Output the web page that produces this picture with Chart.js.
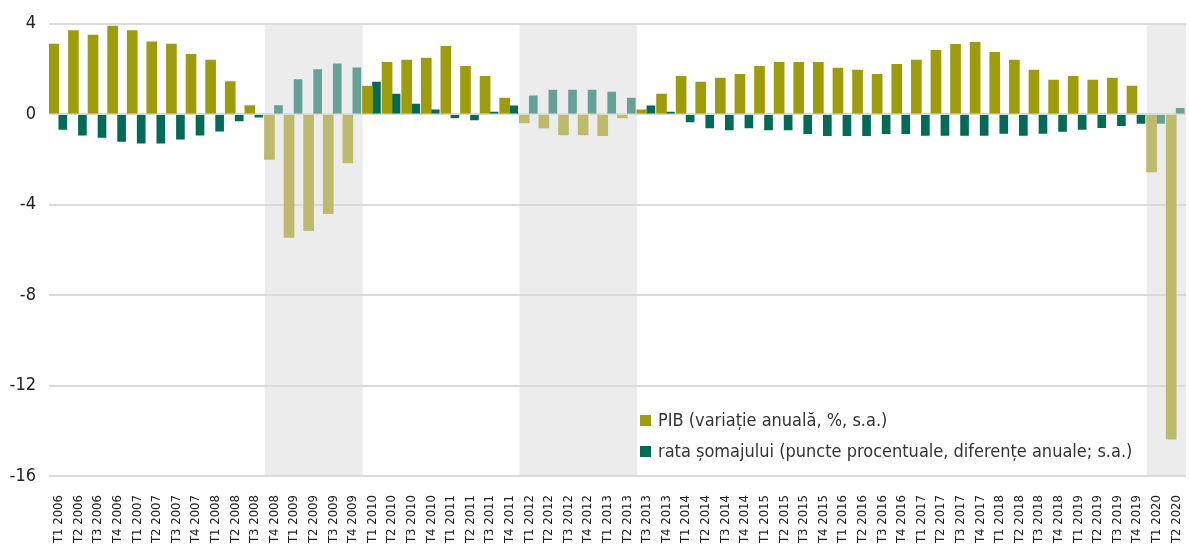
<!DOCTYPE html>
<html>
<head>
<meta charset="utf-8">
<script src="https://cdn.jsdelivr.net/npm/chart.js@4/dist/chart.umd.min.js"></script>
<style>
  html, body { margin: 0; padding: 0; background: #fff; }
  #wrap { width: 1189px; height: 545px; }
</style>
</head>
<body>
<div id="wrap"><canvas id="gdp-unemployment" width="1189" height="545"></canvas></div>
<script>
const quarters = [
  'T1 2006','T2 2006','T3 2006','T4 2006','T1 2007','T2 2007','T3 2007','T4 2007',
  'T1 2008','T2 2008','T3 2008','T4 2008','T1 2009','T2 2009','T3 2009','T4 2009',
  'T1 2010','T2 2010','T3 2010','T4 2010','T1 2011','T2 2011','T3 2011','T4 2011',
  'T1 2012','T2 2012','T3 2012','T4 2012','T1 2013','T2 2013','T3 2013','T4 2013',
  'T1 2014','T2 2014','T3 2014','T4 2014','T1 2015','T2 2015','T3 2015','T4 2015',
  'T1 2016','T2 2016','T3 2016','T4 2016','T1 2017','T2 2017','T3 2017','T4 2017',
  'T1 2018','T2 2018','T3 2018','T4 2018','T1 2019','T2 2019','T3 2019','T4 2019',
  'T1 2020','T2 2020'
];

// PIB, variatie anuala (%)
const gdpGrowth = [
  3.1, 3.7, 3.5, 3.9,   3.7, 3.2, 3.1, 2.65,
  2.4, 1.45, 0.38, -2.0,   -5.45, -5.15, -4.4, -2.15,
  1.25, 2.3, 2.4, 2.48,   3.0, 2.12, 1.68, 0.72,
  -0.38, -0.6, -0.91, -0.91,   -0.95, -0.16, 0.19, 0.89,
  1.68, 1.42, 1.6, 1.77,   2.12, 2.3, 2.3, 2.3,
  2.04, 1.95, 1.77, 2.21,   2.39, 2.83, 3.09, 3.18,
  2.74, 2.39, 1.95, 1.51,   1.68, 1.51, 1.6, 1.24,
  -2.55, -14.37
];

// rata somajului, diferente anuale (pp)
const unemploymentChange = [
  -0.67, -0.93, -1.03, -1.2,   -1.28, -1.28, -1.1, -0.93,
  -0.75, -0.3, -0.13, 0.38,   1.53, 1.97, 2.23, 2.05,
  1.42, 0.89, 0.45, 0.19,   -0.16, -0.25, 0.1, 0.37,
  0.81, 1.07, 1.07, 1.07,   0.98, 0.72, 0.37, 0.1,
  -0.34, -0.6, -0.69, -0.6,   -0.69, -0.69, -0.86, -0.95,
  -0.95, -0.95, -0.86, -0.86,   -0.94, -0.94, -0.94, -0.94,
  -0.85, -0.94, -0.85, -0.76,   -0.67, -0.59, -0.5, -0.41,
  -0.41, 0.26
];

// shaded periods (first and last quarter)
const recessions = [
  ['T4 2008', 'T4 2009'],
  ['T1 2012', 'T2 2013'],
  ['T1 2020', 'T2 2020']
];

const yTicks = [-16, -12, -8, -4, 0, 4];

const FONT = "'Liberation Sans Narrow', 'DejaVu Sans Condensed', 'Liberation Sans', sans-serif";
const OLIVE = '#9e9c0b', OLIVE_LIGHT = '#bdbb6b';
const TEAL = '#006b56', TEAL_LIGHT = '#66a197';

const shadedIdx = recessions.map(r => [quarters.indexOf(r[0]), quarters.indexOf(r[1])]);
const inRecession = i => shadedIdx.some(([a, b]) => i >= a && i <= b);

const shading = {
  id: 'shading',
  beforeDraw(chart) {
    const { ctx, chartArea } = chart;
    const x = chart.scales.x;
    const half = (x.getPixelForValue(1) - x.getPixelForValue(0)) / 2;
    ctx.save();
    ctx.fillStyle = '#ececec';
    shadedIdx.forEach(([a, b]) => {
      const x1 = x.getPixelForValue(a) - half;
      const x2 = Math.min(x.getPixelForValue(b) + half, chartArea.right);
      ctx.fillRect(x1, chartArea.top, x2 - x1, chartArea.bottom - chartArea.top);
    });
    ctx.restore();
  }
};

const legendInside = {
  id: 'legendInside',
  afterDraw(chart) {
    const { ctx, chartArea } = chart;
    ctx.save();
    ctx.font = '18px ' + FONT;
    ctx.textBaseline = 'middle';
    chart.data.datasets.forEach((ds, i) => {
      const x = chartArea.left + 591;
      const y = chartArea.bottom - 55 + i * 31;
      ctx.fillStyle = ds.legendColor;
      ctx.fillRect(x, y - 6, 11, 11);
      ctx.fillStyle = '#333';
      ctx.fillText(ds.label, x + 18, y);
    });
    ctx.restore();
  }
};

const ctx = document.getElementById('gdp-unemployment').getContext('2d');
new Chart(ctx, {
  type: 'bar',
  data: {
    labels: quarters,
    datasets: [{
      label: 'PIB (variație anuală, %, s.a.)',
      data: gdpGrowth,
      legendColor: OLIVE,
      backgroundColor: gdpGrowth.map((v, i) => inRecession(i) ? OLIVE_LIGHT : OLIVE),
      barThickness: 10
    }, {
      label: 'rata șomajului (puncte procentuale, diferențe anuale; s.a.)',
      data: unemploymentChange,
      legendColor: TEAL,
      backgroundColor: unemploymentChange.map((v, i) => inRecession(i) ? TEAL_LIGHT : TEAL),
      barThickness: 8
    }]
  },
  options: {
    responsive: false,
    devicePixelRatio: 1,
    animation: false,
    layout: { padding: { top: 12, right: 3, left: 0, bottom: 0 } },
    plugins: {
      legend: { display: false },
      tooltip: { enabled: false }
    },
    scales: {
      x: {
        grid: { display: false },
        border: { display: false },
        ticks: {
          autoSkip: false,
          maxRotation: 90,
          minRotation: 90,
          padding: 11,
          color: '#222',
          font: { family: FONT, size: 13 }
        },
        afterFit: s => { s.height = 69; s.paddingLeft = 0; s.paddingRight = 0; }
      },
      y: {
        min: -16,
        max: 4,
        afterBuildTicks: s => { s.ticks = yTicks.map(v => ({ value: v })); },
        grid: { color: '#dadada', lineWidth: 2, drawTicks: false },
        border: { display: false },
        ticks: {
          padding: 13,
          color: '#222',
          font: { family: FONT, size: 18 }
        },
        afterFit: s => { s.width = 49; }
      }
    }
  },
  plugins: [shading, legendInside]
});
</script>
</body>
</html>
